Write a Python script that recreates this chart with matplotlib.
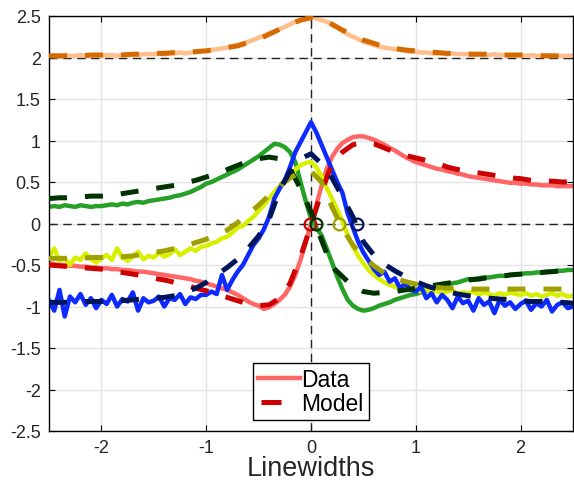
import numpy as np
import matplotlib
matplotlib.use('Agg')
import matplotlib.pyplot as plt
from matplotlib.lines import Line2D
from matplotlib.legend_handler import HandlerLine2D

plt.rcParams['font.family'] = ['Liberation Sans', 'DejaVu Sans']

# muestras de los datos (cada 0.05) y del modelo (cada 0.1)
x_data = np.linspace(-2.5, 2.5, 101)
x_model = np.linspace(-2.5, 2.5, 51)

naranja_data = [2.02, 2.02, 2.01, 2.03, 2.02, 2.02, 2.03, 2.02, 2.02, 2.03,
                2.02, 2.03, 2.03, 2.02, 2.03, 2.04, 2.03, 2.03, 2.04, 2.04,
                2.04, 2.05, 2.04, 2.05, 2.05, 2.06, 2.05, 2.06, 2.07, 2.08,
                2.08, 2.09, 2.10, 2.11, 2.12, 2.14, 2.15, 2.17, 2.19, 2.21,
                2.24, 2.26, 2.29, 2.31, 2.34, 2.37, 2.40, 2.43, 2.45, 2.47,
                2.48, 2.47, 2.45, 2.43, 2.40, 2.36, 2.32, 2.28, 2.25, 2.22,
                2.19, 2.17, 2.15, 2.13, 2.12, 2.11, 2.10, 2.09, 2.08, 2.07,
                2.07, 2.06, 2.06, 2.05, 2.05, 2.05, 2.04, 2.05, 2.04, 2.04,
                2.04, 2.03, 2.04, 2.03, 2.03, 2.04, 2.03, 2.03, 2.02, 2.03,
                2.03, 2.02, 2.03, 2.02, 2.02, 2.03, 2.02, 2.02, 2.02, 2.02,
                2.02]
naranja_modelo = [2.02, 2.02, 2.02, 2.02, 2.03, 2.03, 2.03, 2.03, 2.04, 2.04,
                  2.05, 2.05, 2.06, 2.06, 2.07, 2.08, 2.10, 2.12, 2.14, 2.18,
                  2.22, 2.28, 2.34, 2.40, 2.45, 2.48, 2.45, 2.40, 2.33, 2.27,
                  2.21, 2.17, 2.13, 2.11, 2.09, 2.08, 2.07, 2.06, 2.05, 2.05,
                  2.04, 2.04, 2.04, 2.03, 2.03, 2.03, 2.03, 2.02, 2.02, 2.02,
                  2.02]

rojo_data = [-0.48, -0.49, -0.50, -0.50, -0.51, -0.51, -0.52, -0.52, -0.53, -0.53,
             -0.54, -0.54, -0.55, -0.55, -0.56, -0.56, -0.57, -0.58, -0.58, -0.59,
             -0.60, -0.61, -0.62, -0.63, -0.64, -0.65, -0.66, -0.67, -0.69, -0.70,
             -0.72, -0.74, -0.76, -0.78, -0.80, -0.83, -0.86, -0.90, -0.94, -0.97,
             -0.99, -1.03, -1.01, -0.97, -0.92, -0.86, -0.76, -0.62, -0.44, -0.22,
             0.00, 0.22, 0.45, 0.66, 0.80, 0.90, 0.97, 1.01, 1.04, 1.05,
             1.05, 1.03, 1.01, 0.98, 0.95, 0.91, 0.88, 0.84, 0.80, 0.77,
             0.74, 0.72, 0.70, 0.68, 0.66, 0.65, 0.63, 0.62, 0.60, 0.59,
             0.57, 0.56, 0.55, 0.54, 0.53, 0.52, 0.51, 0.50, 0.49, 0.49,
             0.48, 0.48, 0.47, 0.47, 0.46, 0.46, 0.46, 0.45, 0.45, 0.45,
             0.45]
rojo_modelo = [-0.50, -0.51, -0.52, -0.53, -0.54, -0.55, -0.57, -0.59, -0.61, -0.63,
               -0.66, -0.68, -0.71, -0.74, -0.78, -0.81, -0.85, -0.89, -0.93, -0.97,
               -0.99, -0.98, -0.90, -0.72, -0.40, -0.02, 0.38, 0.72, 0.86, 0.95,
               0.98, 0.96, 0.91, 0.86, 0.82, 0.79, 0.76, 0.73, 0.68, 0.65,
               0.63, 0.61, 0.59, 0.57, 0.55, 0.54, 0.52, 0.51, 0.51, 0.50,
               0.50]

verde_data = [0.20, 0.21, 0.20, 0.22, 0.21, 0.20, 0.22, 0.21, 0.20, 0.21,
              0.21, 0.22, 0.23, 0.22, 0.24, 0.23, 0.25, 0.26, 0.25, 0.27,
              0.28, 0.29, 0.30, 0.31, 0.33, 0.34, 0.36, 0.38, 0.41, 0.44,
              0.48, 0.50, 0.53, 0.56, 0.59, 0.62, 0.65, 0.69, 0.73, 0.77,
              0.81, 0.86, 0.91, 0.96, 0.95, 0.92, 0.86, 0.74, 0.50, 0.27,
              0.06, -0.05, -0.14, -0.30, -0.47, -0.64, -0.79, -0.92, -0.99, -1.03,
              -1.05, -1.04, -1.02, -0.99, -0.97, -0.95, -0.92, -0.90, -0.88, -0.86,
              -0.85, -0.83, -0.81, -0.79, -0.77, -0.75, -0.73, -0.72, -0.71, -0.69,
              -0.67, -0.67, -0.66, -0.65, -0.65, -0.64, -0.63, -0.63, -0.62, -0.61,
              -0.61, -0.60, -0.60, -0.59, -0.59, -0.58, -0.58, -0.57, -0.57, -0.56,
              -0.56]
verde_modelo = [0.30, 0.31, 0.31, 0.32, 0.33, 0.33, 0.34, 0.36, 0.38, 0.40,
                0.42, 0.44, 0.46, 0.49, 0.52, 0.56, 0.60, 0.65, 0.70, 0.75,
                0.78, 0.80, 0.78, 0.66, 0.42, 0.14, -0.20, -0.52, -0.64, -0.76,
                -0.82, -0.84, -0.83, -0.82, -0.80, -0.78, -0.76, -0.74, -0.72, -0.70,
                -0.68, -0.67, -0.65, -0.64, -0.62, -0.61, -0.60, -0.59, -0.58, -0.57,
                -0.56]

amarillo_data = [-0.40, -0.30, -0.45, -0.42, -0.50, -0.41, -0.44, -0.36, -0.43, -0.47,
                 -0.42, -0.38, -0.44, -0.30, -0.41, -0.45, -0.40, -0.34, -0.43, -0.39,
                 -0.41, -0.35, -0.40, -0.37, -0.31, -0.38, -0.34, -0.30, -0.33, -0.28,
                 -0.27, -0.24, -0.22, -0.18, -0.16, -0.11, -0.05, -0.03, 0.03, 0.08,
                 0.15, 0.22, 0.30, 0.38, 0.45, 0.53, 0.60, 0.65, 0.70, 0.73,
                 0.74, 0.68, 0.57, 0.43, 0.30, 0.17, 0.02, -0.14, -0.28, -0.39,
                 -0.48, -0.56, -0.62, -0.67, -0.71, -0.74, -0.76, -0.78, -0.77, -0.80,
                 -0.79, -0.82, -0.80, -0.83, -0.81, -0.84, -0.82, -0.80, -0.85, -0.83,
                 -0.84, -0.82, -0.86, -0.83, -0.85, -0.87, -0.84, -0.86, -0.83, -0.85,
                 -0.86, -0.84, -0.87, -0.85, -0.88, -0.86, -0.84, -0.87, -0.85, -0.88,
                 -0.87]
amarillo_modelo = [-0.42, -0.42, -0.42, -0.42, -0.41, -0.41, -0.40, -0.40, -0.39, -0.37,
                   -0.35, -0.33, -0.30, -0.27, -0.23, -0.19, -0.14, -0.08, 0.01, 0.11,
                   0.22, 0.34, 0.45, 0.55, 0.62, 0.63, 0.50, 0.20, -0.06, -0.26,
                   -0.40, -0.51, -0.60, -0.66, -0.70, -0.73, -0.75, -0.77, -0.78, -0.78,
                   -0.79, -0.79, -0.79, -0.79, -0.79, -0.79, -0.79, -0.79, -0.79, -0.79,
                   -0.79]

azul_data = [-0.93, -1.05, -0.80, -1.12, -0.88, -0.95, -0.85, -0.98, -0.90, -1.02,
             -0.92, -0.97, -0.86, -1.00, -0.91, -0.94, -0.83, -1.05, -0.90, -0.95,
             -0.93, -0.88, -1.00, -0.90, -0.92, -0.85, -0.97, -0.89, -0.91, -0.86,
             -0.86, -0.82, -0.85, -0.62, -0.80, -0.68, -0.58, -0.50, -0.38, -0.26,
             -0.18, -0.07, 0.08, 0.30, 0.42, 0.52, 0.68, 0.86, 0.98, 1.10,
             1.22, 1.10, 0.95, 0.80, 0.65, 0.50, 0.37, 0.12, -0.05, -0.22,
             -0.35, -0.45, -0.55, -0.62, -0.58, -0.70, -0.66, -0.78, -0.72, -0.80,
             -0.82, -0.76, -0.90, -0.84, -0.95, -0.86, -0.92, -1.02, -0.88, -0.96,
             -0.93, -1.05, -0.90, -0.98, -0.94, -1.08, -0.92, -0.99, -0.95, -1.03,
             -0.97, -0.93, -1.04, -0.96, -1.00, -0.92, -1.06, -0.98, -0.95, -1.02,
             -1.00]
azul_modelo = [-0.95, -0.95, -0.95, -0.94, -0.94, -0.94, -0.93, -0.93, -0.92, -0.91,
               -0.90, -0.89, -0.87, -0.83, -0.78, -0.71, -0.62, -0.53, -0.43, -0.30,
               -0.15, 0.05, 0.40, 0.63, 0.78, 0.84, 0.72, 0.55, 0.32, 0.08,
               -0.22, -0.38, -0.49, -0.57, -0.64, -0.70, -0.75, -0.79, -0.82, -0.85,
               -0.87, -0.88, -0.90, -0.91, -0.92, -0.93, -0.94, -0.94, -0.95, -0.95,
               -0.96]

# cruces por cero del modelo
cruces_x = [-0.01, 0.05, 0.27, 0.44]
cruces_color = ['#CC0000', '#003300', '#A0A000', '#00165C']

series = [
    (naranja_data, naranja_modelo, '#FFBF8C', '#D46A00'),
    (rojo_data, rojo_modelo, '#FF6666', '#CC0000'),
    (verde_data, verde_modelo, '#26A026', '#003300'),
    (amarillo_data, amarillo_modelo, '#D8F000', '#A0A000'),
    (azul_data, azul_modelo, '#0D2BFF', '#00165C'),
]


class HandlerGuion(HandlerLine2D):
    # un solo guion corto, como en la leyenda original
    def create_artists(self, legend, orig_handle, xdescent, ydescent,
                       width, height, fontsize, trans):
        y = height / 2 - ydescent
        x0 = -xdescent + 0.06 * width
        x1 = -xdescent + 0.55 * width
        linea = Line2D([x0, x1], [y, y], color=orig_handle.get_color(),
                       linewidth=orig_handle.get_linewidth(),
                       solid_capstyle='butt')
        linea.set_transform(trans)
        return [linea]


fig = plt.figure(figsize=(5.74, 4.81), dpi=100)
ax = fig.add_axes([49 / 574, 49 / 481, 524 / 574, 415 / 481])

ax.grid(True, color='#E3E3E3', linewidth=1.0)
ax.set_axisbelow(True)
for yref in (0, 2):
    ax.axhline(yref, color='#222222', linewidth=1.0, dashes=(6, 4), zorder=1)
ax.axvline(0, color='#222222', linewidth=1.0, dashes=(6, 4), zorder=1)

for datos, modelo, c_datos, c_modelo in series:
    ax.plot(x_data, datos, color=c_datos, linewidth=3.2, zorder=2)
for datos, modelo, c_datos, c_modelo in series:
    ax.plot(x_model, modelo, color=c_modelo, linewidth=3.6,
            dashes=(3.6, 3.6), zorder=3)

for xc, col in zip(cruces_x, cruces_color):
    ax.plot([xc], [0], 'o', markersize=8.5, markerfacecolor='none',
            markeredgecolor=col, markeredgewidth=1.6, zorder=4)

ax.set_xlim(-2.5, 2.5)
ax.set_ylim(-2.5, 2.5)
ax.set_xticks([-2, -1, 0, 1, 2])
ax.set_yticks(np.arange(-2.5, 2.51, 0.5))
ax.set_yticklabels(['-2.5', '-2', '-1.5', '-1', '-0.5', '0', '0.5', '1',
                    '1.5', '2', '2.5'])
ax.set_xticklabels(['-2', '-1', '0', '1', '2'])
ax.tick_params(direction='in', top=True, right=True, length=4.5,
               labelsize=13, labelcolor='#262626', pad=6)
for s in ax.spines.values():
    s.set_linewidth(1.0)
    s.set_color('black')

ax.set_xlabel('Linewidths', fontsize=19.5, color='#262626')
ax.xaxis.label.set_va('baseline')
ax.xaxis.set_label_coords(0.5, -(476 - 432) / 415)

linea_data = Line2D([0], [0], color='#FF6666', linewidth=3.2)
linea_modelo = Line2D([0], [0], color='#CC0000', linewidth=3.6)
leg = ax.legend([linea_data, linea_modelo], ['Data', 'Model'],
                handler_map={linea_modelo: HandlerGuion()},
                loc='lower center', bbox_to_anchor=(0.5, 0.027),
                fontsize=16.5, frameon=True, fancybox=False, edgecolor='black',
                framealpha=1, handlelength=1.8, handletextpad=0.08,
                borderpad=0.22, labelspacing=0.02, borderaxespad=0)
leg.get_frame().set_linewidth(1.0)

fig.savefig('out.png', dpi=100)
